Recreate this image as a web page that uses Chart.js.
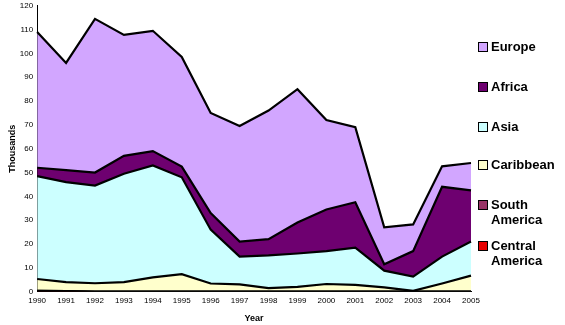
<!DOCTYPE html>
<html>
<head>
<meta charset="utf-8">
<script src="https://cdn.jsdelivr.net/npm/chart.js@4/dist/chart.umd.min.js"></script>
<style>
  body { margin: 0; background: #fff; font-family: "Liberation Sans", Arial, sans-serif; }
  #wrap { position: relative; width: 565px; height: 325px; }
  #legend { position: absolute; left: 478px; top: 0; font-weight: bold; font-size: 13px; color: #000; }
  .item { position: absolute; left: 0; white-space: nowrap; line-height: 15px; }
  .sw { position: absolute; left: 0; top: 3px; width: 8px; height: 8px; border: 1px solid #000; }
  .lbl { position: absolute; left: 13px; top: 0; }
</style>
</head>
<body>
<div id="wrap">
  <canvas id="chart" width="565" height="325"></canvas>
  <div id="legend"></div>
</div>
<script>
const years = ['1990','1991','1992','1993','1994','1995','1996','1997','1998','1999','2000','2001','2002','2003','2004','2005'];
// stacked bottom -> top
const centralAmerica = [0.3,0.2,0,0,0,0,0,0,0,0,0,0,0,0,0,0];
const southAmerica   = [0,0,0,0,0,0,0,0,0,0,0,0,0,0,0,0];
const caribbean      = [5.0,3.8,3.5,4,6,7.3,3.4,3,1.5,2,3.2,2.8,1.8,0.3,3.4,6.7];
const asia           = [43.2,42,41,45.5,47,40.7,22.6,11.7,13.7,14,13.8,15.7,7,6,11.3,14.3];
const africa         = [3.5,5,5.5,7.5,6,4.5,7,6.3,6.8,13,17.5,19,2.7,10.7,29.3,21.5];
const europe         = [57,45,64.5,50.8,50.5,46,42,48.5,54,56,37.5,31.5,15.5,11.2,8.6,11.5];

const series = [
  { name: 'Central America', data: centralAmerica, color: '#E80000' },
  { name: 'South America', data: southAmerica, color: '#993366' },
  { name: 'Caribbean', data: caribbean, color: '#FFFFCC' },
  { name: 'Asia', data: asia, color: '#CCFFFF' },
  { name: 'Africa', data: africa, color: '#6E0070' },
  { name: 'Europe', data: europe, color: '#D2A6FF' }
];

const datasets = series.map((s, i) => ({
  label: s.name,
  data: s.data,
  backgroundColor: s.color,
  borderColor: '#000',
  borderWidth: 2.2,
  pointRadius: 0,
  tension: 0,
  fill: i === 0 ? 'origin' : '-1'
}));

new Chart(document.getElementById('chart'), {
  type: 'line',
  data: { labels: years, datasets: datasets },
  options: {
    responsive: false,
    animation: false,
    layout: { padding: { left: 7, right: 94, top: 5, bottom: 0 } },
    plugins: { legend: { display: false }, tooltip: { enabled: false } },
    scales: {
      x: {
        grid: { display: false, drawTicks: true, tickLength: 3, color: '#000' },
        border: { color: '#000', width: 1 },
        offset: false,
        ticks: { color: '#000', font: { family: 'Liberation Sans', size: 8 }, maxRotation: 0, autoSkip: false, padding: 1 },
        title: { display: true, text: 'Year', color: '#000', font: { family: 'Liberation Sans', size: 9, weight: 'bold' }, padding: { top: 7, bottom: 1 } }
      },
      y: {
        stacked: true,
        min: 0, max: 120,
        grid: { display: false, drawTicks: true, tickLength: 3, color: '#000' },
        border: { color: '#000', width: 1 },
        ticks: { stepSize: 10, color: '#000', font: { family: 'Liberation Sans', size: 8 }, padding: 1 },
        title: { display: true, text: 'Thousands', color: '#000', font: { family: 'Liberation Sans', size: 9, weight: 'bold' }, padding: { top: 0, bottom: 1 } }
      }
    }
  }
});

// legend, top to bottom
const legendItems = [
  { text: ['Europe'], color: '#D2A6FF', top: 39 },
  { text: ['Africa'], color: '#6E0070', top: 79 },
  { text: ['Asia'], color: '#CCFFFF', top: 119 },
  { text: ['Caribbean'], color: '#FFFFCC', top: 157 },
  { text: ['South', 'America'], color: '#993366', top: 197 },
  { text: ['Central', 'America'], color: '#E80000', top: 238 }
];
const legend = document.getElementById('legend');
legendItems.forEach(it => {
  const d = document.createElement('div');
  d.className = 'item';
  d.style.top = it.top + 'px';
  d.innerHTML = '<span class="sw" style="background:' + it.color + '"></span><span class="lbl">' + it.text.join('<br>') + '</span>';
  legend.appendChild(d);
});
</script>
</body>
</html>
